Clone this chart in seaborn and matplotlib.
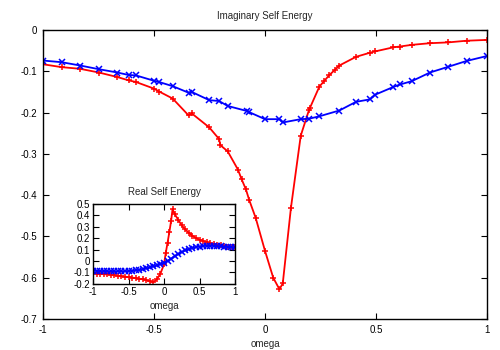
import matplotlib
matplotlib.use("Agg")
import matplotlib.pyplot as plt
import seaborn as sns
from matplotlib.ticker import FuncFormatter

# Main plot: Imaginary self energy
imag_red_x = [-1.0, -0.916, -0.833, -0.748, -0.665, -0.614, -0.581, -0.5, -0.477, -0.416,
              -0.344, -0.330, -0.251, -0.207, -0.201, -0.168, -0.122, -0.105, -0.086, -0.071,
              -0.042, 0.0, 0.037, 0.065, 0.08, 0.117, 0.161, 0.198, 0.203, 0.245,
              0.266, 0.29, 0.314, 0.335, 0.41, 0.473, 0.495, 0.578, 0.608, 0.661,
              0.743, 0.826, 0.908, 1.0]
imag_red_y = [-0.083, -0.090, -0.094, -0.103, -0.114, -0.122, -0.126, -0.142, -0.149, -0.166,
              -0.207, -0.202, -0.236, -0.264, -0.279, -0.294, -0.338, -0.362, -0.386, -0.412,
              -0.455, -0.535, -0.600, -0.628, -0.614, -0.430, -0.256, -0.194, -0.188, -0.137,
              -0.124, -0.109, -0.097, -0.086, -0.065, -0.055, -0.052, -0.042, -0.040, -0.036,
              -0.032, -0.030, -0.026, -0.024]
imag_blue_x = [-1.0, -0.916, -0.833, -0.748, -0.665, -0.614, -0.581, -0.5, -0.477, -0.416,
               -0.344, -0.330, -0.251, -0.207, -0.168, -0.083, -0.071, 0.0, 0.065, 0.08,
               0.161, 0.198, 0.245, 0.335, 0.41, 0.473, 0.495, 0.578, 0.608, 0.661,
               0.743, 0.826, 0.908, 1.0]
imag_blue_y = [-0.074, -0.078, -0.086, -0.095, -0.103, -0.109, -0.110, -0.123, -0.126, -0.136,
               -0.152, -0.150, -0.170, -0.172, -0.184, -0.196, -0.199, -0.216, -0.216, -0.224,
               -0.216, -0.215, -0.209, -0.195, -0.174, -0.168, -0.157, -0.138, -0.132, -0.124,
               -0.103, -0.089, -0.075, -0.063]

# Inset: Real self energy
real_red_x = [-1.0, -0.95, -0.9, -0.85, -0.8, -0.75, -0.7, -0.65, -0.6, -0.55,
              -0.5, -0.45, -0.4, -0.35, -0.3, -0.25, -0.2, -0.15, -0.1, -0.05,
              0.0, 0.025, 0.05, 0.075, 0.1, 0.12, 0.15, 0.2, 0.25, 0.3,
              0.35, 0.4, 0.45, 0.5, 0.55, 0.6, 0.65, 0.7, 0.75, 0.8,
              0.85, 0.9, 0.95, 1.0]
real_red_y = [-0.105, -0.110, -0.112, -0.115, -0.118, -0.120, -0.125, -0.130, -0.135, -0.138,
              -0.140, -0.145, -0.150, -0.155, -0.160, -0.168, -0.178, -0.185, -0.160, -0.110,
              -0.030, 0.070, 0.160, 0.250, 0.350, 0.450, 0.410, 0.360, 0.310, 0.275,
              0.245, 0.220, 0.200, 0.185, 0.175, 0.163, 0.155, 0.145, 0.140, 0.135,
              0.130, 0.125, 0.120, 0.118]
real_blue_x = [-1.0, -0.95, -0.9, -0.85, -0.8, -0.75, -0.7, -0.65, -0.6, -0.55,
               -0.5, -0.45, -0.4, -0.35, -0.3, -0.25, -0.2, -0.15, -0.1, -0.05,
               0.0, 0.05, 0.1, 0.15, 0.2, 0.25, 0.3, 0.35, 0.4, 0.45,
               0.5, 0.55, 0.6, 0.65, 0.7, 0.75, 0.8, 0.85, 0.9, 0.95, 1.0]
real_blue_y = [-0.085, -0.087, -0.088, -0.088, -0.089, -0.090, -0.090, -0.090, -0.090, -0.089,
               -0.088, -0.085, -0.082, -0.078, -0.072, -0.065, -0.057, -0.048, -0.038, -0.028,
               -0.015, 0.000, 0.020, 0.040, 0.060, 0.078, 0.092, 0.104, 0.113, 0.120,
               0.126, 0.130, 0.132, 0.132, 0.131, 0.129, 0.127, 0.124, 0.122, 0.120, 0.118]

main_xticks = [-1, -0.5, 0, 0.5, 1]
main_yticks = [0, -0.1, -0.2, -0.3, -0.4, -0.5, -0.6, -0.7]
inset_xticks = [-1, -0.5, 0, 0.5, 1]
inset_yticks = [-0.2, -0.1, 0, 0.1, 0.2, 0.3, 0.4, 0.5]

sns.set_theme(style="ticks")
plt.rcParams['font.family'] = ['Liberation Sans', 'DejaVu Sans']
plt.rcParams['axes.unicode_minus'] = False
plt.rcParams['font.size'] = 7

fig = plt.figure(figsize=(5, 3.5), dpi=100)
fig.patch.set_facecolor('white')
ax = fig.add_axes([0.086, 0.0886, 0.888, 0.8257])

fmt = FuncFormatter(lambda v, p: '%g' % round(v, 3))

def style(a, xt, yt, xlim, ylim):
    a.set_xlim(*xlim)
    a.set_ylim(*ylim)
    a.set_xticks(xt)
    a.set_yticks(yt)
    a.xaxis.set_major_formatter(fmt)
    a.yaxis.set_major_formatter(fmt)
    a.tick_params(direction='in', top=True, right=True, length=4, width=0.8,
                  labelsize=7, colors='black', pad=4)
    for s in a.spines.values():
        s.set_visible(True)
        s.set_color('black')
        s.set_linewidth(1.0)
    a.set_facecolor('white')

RED = '#ff0000'
BLUE = '#0000ff'

def draw(a, x, y, color, marker, ms):
    sns.lineplot(x=x, y=y, ax=a, color=color, marker=marker, markersize=ms,
                 markeredgewidth=1.1, markeredgecolor=color, markerfacecolor=color,
                 linewidth=1.3, sort=False)

draw(ax, imag_red_x, imag_red_y, RED, '+', 5)
draw(ax, imag_blue_x, imag_blue_y, BLUE, 'x', 4)
style(ax, main_xticks, main_yticks, (-1, 1), (-0.7, 0))
ax.set_title("Imaginary Self Energy", fontsize=7, pad=8)
ax.set_xlabel("omega", fontsize=7, labelpad=3)
ax.set_ylabel("")

ins = fig.add_axes([0.186, 0.189, 0.284, 0.229])
draw(ins, real_red_x, real_red_y, RED, '+', 5)
draw(ins, real_blue_x, real_blue_y, BLUE, 'x', 4)
style(ins, inset_xticks, inset_yticks, (-1, 1), (-0.2, 0.5))
ins.set_title("Real Self Energy", fontsize=7, pad=6)
ins.set_xlabel("omega", fontsize=7, labelpad=3)
ins.set_ylabel("")
ins.tick_params(pad=2)

fig.savefig("out.png", dpi=100, facecolor='white')
